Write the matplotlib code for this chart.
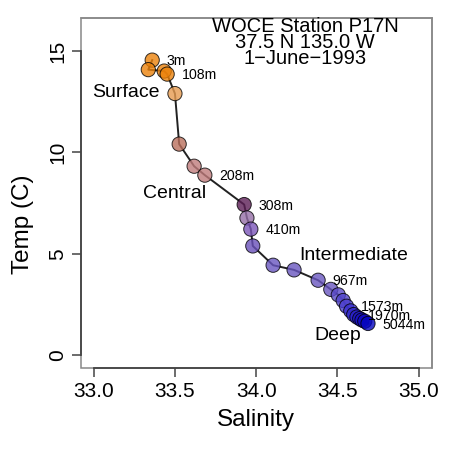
import matplotlib
matplotlib.use("Agg")
import matplotlib.pyplot as plt
from matplotlib.patches import Rectangle

# ---- data ----
salinity = [33.360, 33.336, 33.434, 33.452, 33.500, 33.526, 33.618, 33.684,
            33.926, 33.943, 33.967, 33.979, 34.104, 34.233, 34.381, 34.459,
            34.505, 34.535, 34.556, 34.582, 34.600, 34.620, 34.637, 34.651,
            34.668, 34.688]
temperature = [14.55, 14.08, 14.01, 13.86, 12.90, 10.41, 9.32, 8.88,
               7.43, 6.77, 6.22, 5.39, 4.44, 4.21, 3.70, 3.25,
               2.98, 2.70, 2.42, 2.19, 2.01, 1.89, 1.81, 1.74,
               1.68, 1.57]
depth_label_index = [0, 3, 7, 8, 10, 14, 18, 20, 25]
depth_labels = ["3m", "108m", "208m", "308m", "410m", "967m", "1573m", "1970m", "5044m"]
water_masses = ["Surface", "Central", "Intermediate", "Deep"]
water_mass_s = [33.20, 33.50, 34.60, 34.50]
water_mass_t = [12.95, 8.0, 4.9, 1.0]
title_lines = ["WOCE Station P17N", "37.5 N 135.0 W", "1\u2212June\u22121993"]
title_s = 34.30
title_t = 15.42
x_ticks = [33.0, 33.5, 34.0, 34.5, 35.0]
y_ticks = [0, 5, 10, 15]

# ---- style ----
point_colors = ['#EC820B', '#EC820B', '#EC820B', '#EC820B', '#E69B50',
                '#BA6F5C', '#C07C7C', '#C07C7C', '#5C1E56', '#956FA7',
                '#7C56BA', '#6950BA', '#6956C0', '#6956C0', '#6956C0',
                '#6956C0', '#5A4AC8', '#5044CA', '#4A3DCD', '#3A30CD',
                '#3028CA', '#2820C8', '#2018C4', '#1810C2', '#1008C0',
                '#0505C0']

plt.rcParams['font.family'] = ['Liberation Sans', 'DejaVu Sans']

fig = plt.figure(figsize=(4.5, 4.5), dpi=100)
ax = fig.add_axes([80.7/450, 1 - 368.3/450, 351/450, 350.6/450])

ax.plot(salinity, temperature, color='#222222', lw=1.4, zorder=2)
ax.scatter(salinity, temperature, s=105, c=point_colors, edgecolors='black',
           linewidths=0.7, alpha=0.8, zorder=3)

for idx, lab in zip(depth_label_index, depth_labels):
    ax.annotate(lab, (salinity[idx], temperature[idx]), xytext=(10.4, -0.8),
                textcoords='offset points', ha='left', va='center', fontsize=10.2)

for name, s, t in zip(water_masses, water_mass_s, water_mass_t):
    ax.text(s, t, name, ha='center', va='center', fontsize=14)

ax.text(title_s, title_t, "\n".join(title_lines), ha='center', va='center',
        fontsize=14.5, linespacing=0.79, multialignment='center')

ax.set_xlim(32.92, 35.08)
ax.set_ylim(-0.64, 16.64)
ax.set_xticks(x_ticks)
ax.set_xticklabels([f"{v:.1f}" for v in x_ticks])
ax.set_yticks(y_ticks)
ax.set_yticklabels([str(v) for v in y_ticks], rotation=90, va='center')

axis_dark = '#444444'
box_gray = '#888888'
for side in ['top', 'right']:
    ax.spines[side].set_color(box_gray)
    ax.spines[side].set_linewidth(1.1)
ax.spines['left'].set_bounds(0, 15)
ax.spines['bottom'].set_bounds(33, 35)
for side in ['left', 'bottom']:
    ax.spines[side].set_color(axis_dark)
    ax.spines[side].set_linewidth(1.3)
ax.add_patch(Rectangle((0, 0), 1, 1, transform=ax.transAxes, fill=False,
                       edgecolor=box_gray, lw=1.1, zorder=0.5, clip_on=False))

ax.tick_params(axis='both', length=6.8, width=1.1, color=axis_dark,
               labelsize=15, labelcolor='black')
ax.tick_params(axis='x', pad=3.4)
ax.tick_params(axis='y', pad=3.1)

ax.set_xlabel("Salinity", fontsize=17.5, labelpad=5.3)
ax.set_ylabel("Temp (C)", fontsize=17.5)
ax.yaxis.set_label_coords(-0.133, 0.41)

fig.savefig("out.png", dpi=100)
